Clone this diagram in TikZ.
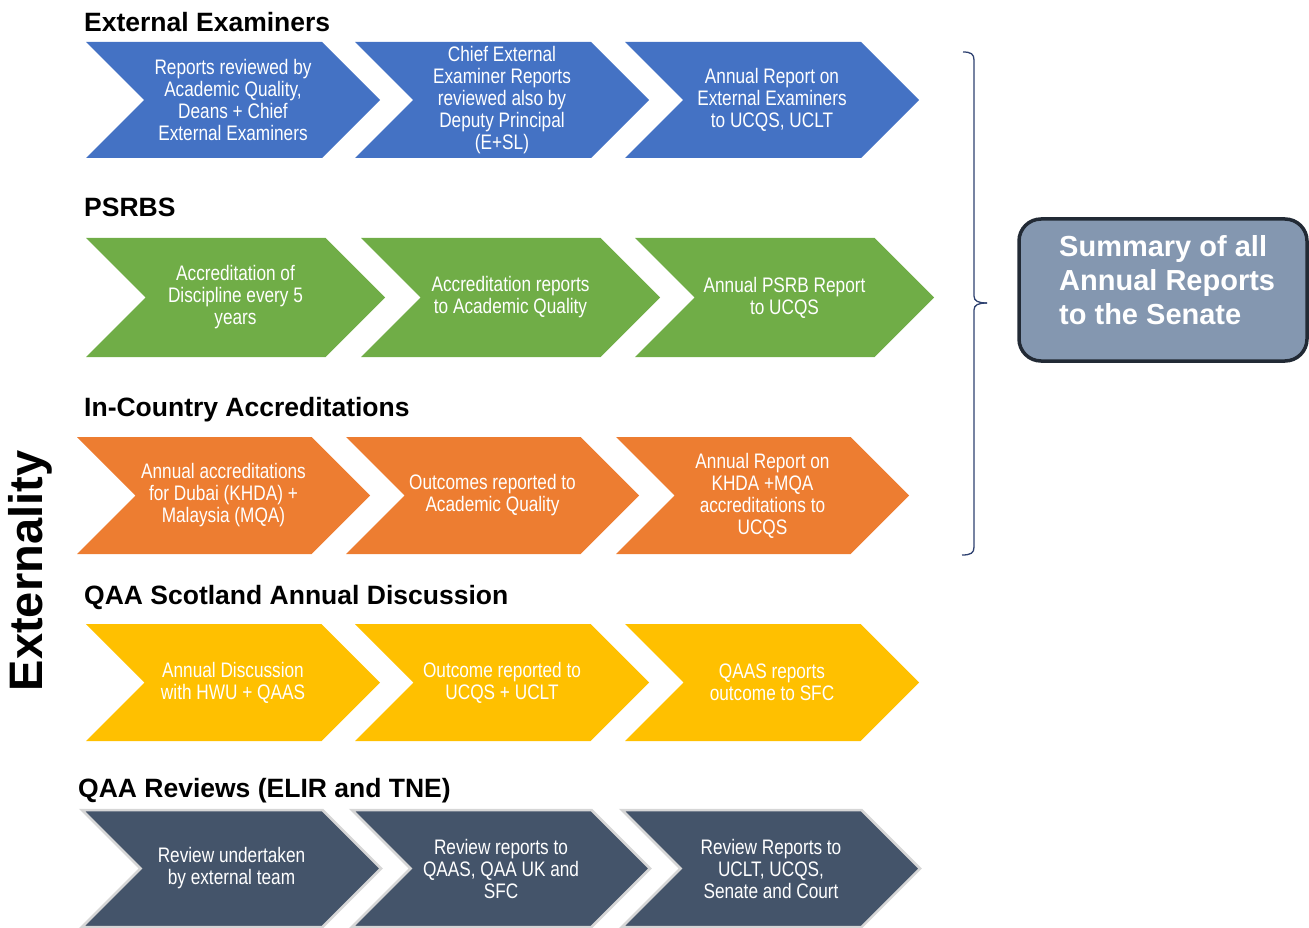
\documentclass[tikz,border=0pt]{standalone}
\usepackage{fontspec}
\setmainfont{Liberation Sans}
\newfontfamily\narrowfont[FakeStretch=0.82]{Liberation Sans}
\definecolor{cblue}{HTML}{4472C4}
\definecolor{cgreen}{HTML}{70AD47}
\definecolor{corange}{HTML}{ED7D31}
\definecolor{cyellow}{HTML}{FFC000}
\definecolor{cdark}{HTML}{44546A}
\definecolor{cgreyline}{HTML}{D6D6D6}
\definecolor{csum}{HTML}{8497B0}
\definecolor{csumline}{HTML}{222A35}
\definecolor{cbrace}{HTML}{2E4170}
\tikzset{
  chtext/.style={text=white, align=center, inner sep=0pt,
    font=\narrowfont\fontsize{21}{22}\selectfont},
  header/.style={anchor=base west, inner sep=0pt,
    font=\fontsize{26.5}{30}\selectfont\bfseries},
  bluefill/.style={fill=cblue},
  greenfill/.style={fill=cgreen},
  orangefill/.style={fill=corange},
  yellowfill/.style={fill=cyellow},
  darkfill/.style={fill=cdark, draw=cgreyline, line width=2.5pt, line join=miter},
}
% #1 left, #2 top, #3 width, #4 height, #5 style, #6 name, #7 text
\newcommand\chev[7]{%
  \path[#5] (#1,#2) -- (#1+#3-#4/2,#2) -- (#1+#3,#2+#4/2) -- (#1+#3-#4/2,#2+#4)
    -- (#1,#2+#4) -- (#1+#4/2,#2+#4/2) -- cycle;
  \node[chtext] (#6) at (#1+#3/2,#2+#4/2) {#7};}
\begin{document}
\begin{tikzpicture}[x=1pt,y=-1pt]
\useasboundingbox (0,0) rectangle (1309,928);

% Row 1
\node[header] (h1) at (84,32) {External Examiners};
\chev{86}{42}{294}{116}{bluefill}{b1}{Reports reviewed by\\Academic Quality,\\Deans + Chief\\External Examiners}
\chev{355}{42}{294}{116}{bluefill}{b2}{Chief External\\Examiner Reports\\reviewed also by\\Deputy Principal\\(E+SL)}
\chev{625}{42}{294}{116}{bluefill}{b3}{Annual Report on\\External Examiners\\to UCQS, UCLT}

% Row 2
\node[header] (h2) at (84,217) {PSRBS};
\chev{86}{238}{299}{119}{greenfill}{g1}{Accreditation of\\Discipline every 5\\years}
\chev{361}{238}{299}{119}{greenfill}{g2}{Accreditation reports\\to Academic Quality}
\chev{635}{238}{299}{119}{greenfill}{g3}{Annual PSRB Report\\to UCQS}

% Row 3
\node[header] (h3) at (84,416) {In-Country Accreditations};
\chev{77}{437}{293}{117}{orangefill}{o1}{Annual accreditations\\for Dubai (KHDA) +\\Malaysia (MQA)}
\chev{346}{437}{293}{117}{orangefill}{o2}{Outcomes reported to\\Academic Quality}
\chev{616}{437}{293}{117}{orangefill}{o3}{Annual Report on\\KHDA +MQA\\accreditations to\\UCQS}

% Row 4
\node[header] (h4) at (84,604) {QAA Scotland Annual Discussion};
\chev{86}{624}{294}{117}{yellowfill}{y1}{Annual Discussion\\with HWU + QAAS}
\chev{355}{624}{294}{117}{yellowfill}{y2}{Outcome reported to\\UCQS + UCLT}
\chev{625}{624}{294}{117}{yellowfill}{y3}{QAAS reports\\outcome to SFC}

% Row 5
\node[header] (h5) at (78,797) {QAA Reviews (ELIR and TNE)};
\chev{82}{810}{299}{117}{darkfill}{d1}{Review undertaken\\by external team}
\chev{352}{810}{298}{117}{darkfill}{d2}{Review reports to\\QAAS, QAA UK and\\SFC}
\chev{622}{810}{298}{117}{darkfill}{d3}{Review Reports to\\UCLT, UCQS,\\Senate and Court}

% Externality
\node[rotate=90, anchor=base, inner sep=0pt, font=\fontsize{47}{50}\selectfont\bfseries] (ext) at (42,571) {Externality};

% Brace
\draw[cbrace, line width=1.3pt] (963,52) .. controls (971,52) and (974,54) .. (974,60)
  -- (974,296) .. controls (974,301) and (978,303) .. (987,303);
\draw[cbrace, line width=1.3pt] (987,303) .. controls (978,303) and (974,305) .. (974,310)
  -- (974,547) .. controls (974,553) and (971,555) .. (962,555);

% Summary box
\draw[fill=csum, draw=csumline, line width=3.5pt, rounded corners=22pt] (1019,219) rectangle (1307,361);
\node[anchor=north west, inner sep=0pt, align=left, text=white,
  font=\fontsize{29}{34}\selectfont\bfseries] (sum) at (1059,235) {Summary of all\\Annual Reports\\to the Senate};
\end{tikzpicture}
\end{document}
